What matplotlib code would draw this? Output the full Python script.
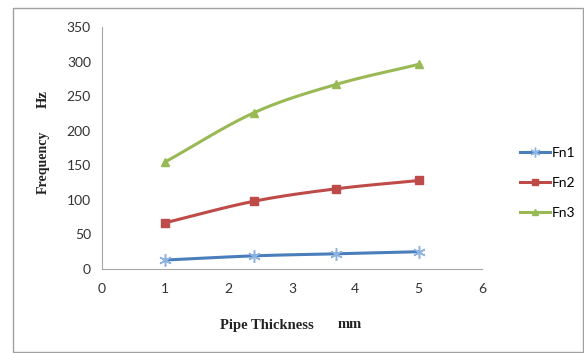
import numpy as np
import matplotlib.pyplot as plt
from matplotlib.patches import Rectangle

# Dados
espessura = [1, 2.4, 3.7, 5]
fn1 = [13, 19, 22, 25]
fn2 = [67, 98, 116, 128]
fn3 = [155, 226, 267, 296]
nomes = ["Fn1", "Fn2", "Fn3"]
cores = ["#4A7EBB", "#BE4B48", "#98B954"]
marcadores = [(6, 2, 0), "s", "^"]


# Curva suave (Catmull-Rom) passando pelos pontos, como a linha suavizada do Excel
def suavizar(x, y, passos=20):
    x = np.asarray(x, float)
    y = np.asarray(y, float)
    px = np.concatenate([[2 * x[0] - x[1]], x, [2 * x[-1] - x[-2]]])
    py = np.concatenate([[2 * y[0] - y[1]], y, [2 * y[-1] - y[-2]]])
    xs, ys = [], []
    t = np.linspace(0, 1, passos)
    for i in range(1, len(px) - 2):
        for p, out in ((px, xs), (py, ys)):
            p0, p1, p2, p3 = p[i - 1], p[i], p[i + 1], p[i + 2]
            out.extend(0.5 * (2 * p1 + (-p0 + p2) * t
                              + (2 * p0 - 5 * p1 + 4 * p2 - p3) * t ** 2
                              + (-p0 + 3 * p1 - 3 * p2 + p3) * t ** 3))
    return xs, ys


fig = plt.figure(figsize=(5.84, 3.53), dpi=100)
ax = fig.add_axes([102 / 584, 1 - 269 / 353, 380 / 584, 242 / 353])

# Moldura externa
fig.patches.append(Rectangle((13 / 584, 1 / 353), 570 / 584, 344 / 353,
                             transform=fig.transFigure, fill=False,
                             edgecolor="#A0A0A0", linewidth=1.0))

for serie, nome, cor, marc in zip([fn1, fn2, fn3], nomes, cores, marcadores):
    xs, ys = suavizar(espessura, serie)
    ax.plot(xs, ys, color=cor, linewidth=2.2)
    if nome == "Fn1":
        ax.plot(espessura, serie, linestyle="none", marker=marc, markersize=9,
                markeredgecolor="#8FB3E0", markeredgewidth=1.1)
        ax.plot([], [], color=cor, linewidth=2.2, marker=marc, markersize=7,
                markeredgecolor="#8FB3E0", markeredgewidth=1.0, label=nome)
    else:
        ax.plot(espessura, serie, linestyle="none", marker=marc, markersize=6,
                color=cor)
        ax.plot([], [], color=cor, linewidth=2.2, marker=marc, markersize=5,
                label=nome)

ax.set_xlim(0, 6)
ax.set_ylim(0, 350)
ax.set_xticks(range(0, 7))
ax.set_yticks(range(0, 351, 50))
for lado in ["top", "right"]:
    ax.spines[lado].set_visible(False)
for lado in ["left", "bottom"]:
    ax.spines[lado].set_color("#A6A6A6")
ax.tick_params(length=0, labelsize=10, colors="#333333", pad=8)
ax.tick_params(axis="x", pad=10)
for rotulo in ax.get_xticklabels() + ax.get_yticklabels():
    rotulo.set_family("Lato")

fonte_serif = "Liberation Serif"
fig.text(43 / 584, 1 - 162 / 353, "Frequency", rotation=90, ha="center",
         va="center", fontsize=10, family=fonte_serif, fontweight="bold",
         color="#222222")
fig.text(43 / 584, 1 - 99 / 353, "Hz", rotation=90, ha="center",
         va="center", fontsize=10.5, family=fonte_serif, fontweight="bold",
         color="#222222")
fig.text(220 / 584, 1 - 325 / 353, "Pipe Thickness", ha="left", va="center",
         fontsize=10.5, family=fonte_serif, fontweight="bold", color="#222222")
fig.text(338 / 584, 1 - 325 / 353, "mm", ha="left", va="center",
         fontsize=10.5, family=fonte_serif, fontweight="bold", color="#222222")

leg = fig.legend(loc="center left", bbox_to_anchor=(507 / 584, 1 - 183 / 353),
                 frameon=False, fontsize=10, handlelength=2.2,
                 handletextpad=0.15, labelspacing=1.3)
for texto in leg.get_texts():
    texto.set_family("Lato")

fig.savefig("out.png", dpi=100)
